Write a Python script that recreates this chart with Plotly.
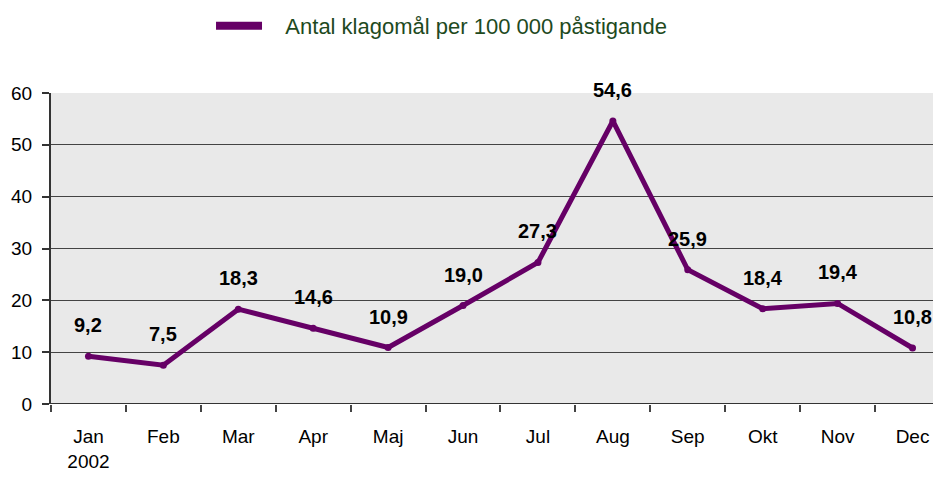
import plotly.graph_objects as go

months = ["Jan", "Feb", "Mar", "Apr", "Maj", "Jun", "Jul", "Aug", "Sep", "Okt", "Nov", "Dec"]
tick_labels = ["Jan<br>2002", "Feb", "Mar", "Apr", "Maj", "Jun", "Jul", "Aug", "Sep", "Okt", "Nov", "Dec"]
values = [9.2, 7.5, 18.3, 14.6, 10.9, 19.0, 27.3, 54.6, 25.9, 18.4, 19.4, 10.8]
series_name = "Antal klagomål per 100 000 påstigande"

line_color = "#660066"
font_family = "Liberation Sans, Arial, sans-serif"

fig = go.Figure()
fig.add_trace(go.Scatter(
    x=tick_labels, y=values, mode="lines+markers",
    name=series_name, showlegend=False,
    line=dict(color=line_color, width=5),
    marker=dict(color=line_color, size=7),
))
# legend entry (thick line sample, no marker)
fig.add_trace(go.Scatter(
    x=[None], y=[None], mode="lines",
    name="\u00a0\u00a0\u00a0" + series_name, showlegend=True,
    line=dict(color=line_color, width=8),
))

for lab, v in zip(tick_labels, values):
    fig.add_annotation(
        x=lab, y=v, text=f"<b>{v:.1f}</b>".replace(".", ","), showarrow=False,
        yshift=31, font=dict(family=font_family, size=20, color="black"),
        xref="x", yref="y",
    )

fig.update_layout(
    width=933, height=469,
    margin=dict(l=43, r=0, t=85, b=73, autoexpand=False),
    paper_bgcolor="white", plot_bgcolor="#E9E9E9",
    font=dict(family=font_family, size=18, color="black"),
    showlegend=True,
    legend=dict(
        orientation="h", xref="container", yref="container",
        x=0.2176, y=0.9616, xanchor="left", yanchor="middle",
        font=dict(family=font_family, size=22, color="#1E4A1E"),
        itemwidth=46, bgcolor="rgba(0,0,0,0)",
    ),
    xaxis=dict(
        type="category", categoryorder="array", categoryarray=tick_labels,
        range=[-0.5, 11.38], tickson="boundaries", ticks="outside",
        ticklen=7, tickcolor="#444", tickwidth=1.5, showgrid=False, zeroline=False,
        showline=False, ticklabelstandoff=19,
        tickfont=dict(family=font_family, size=19, color="black"),
    ),
    yaxis=dict(
        range=[0, 60], dtick=10, ticks="outside", ticklen=7, tickcolor="#333",
        tickwidth=1.5, ticklabelstandoff=6,
        showline=True, linecolor="#333", linewidth=2,
        showgrid=True, gridcolor="#444", gridwidth=1, zeroline=False,
        tickfont=dict(family=font_family, size=19, color="black"),
    ),
)
fig.add_hline(y=0, line=dict(color="#333", width=2))

fig.write_html("out.html")
